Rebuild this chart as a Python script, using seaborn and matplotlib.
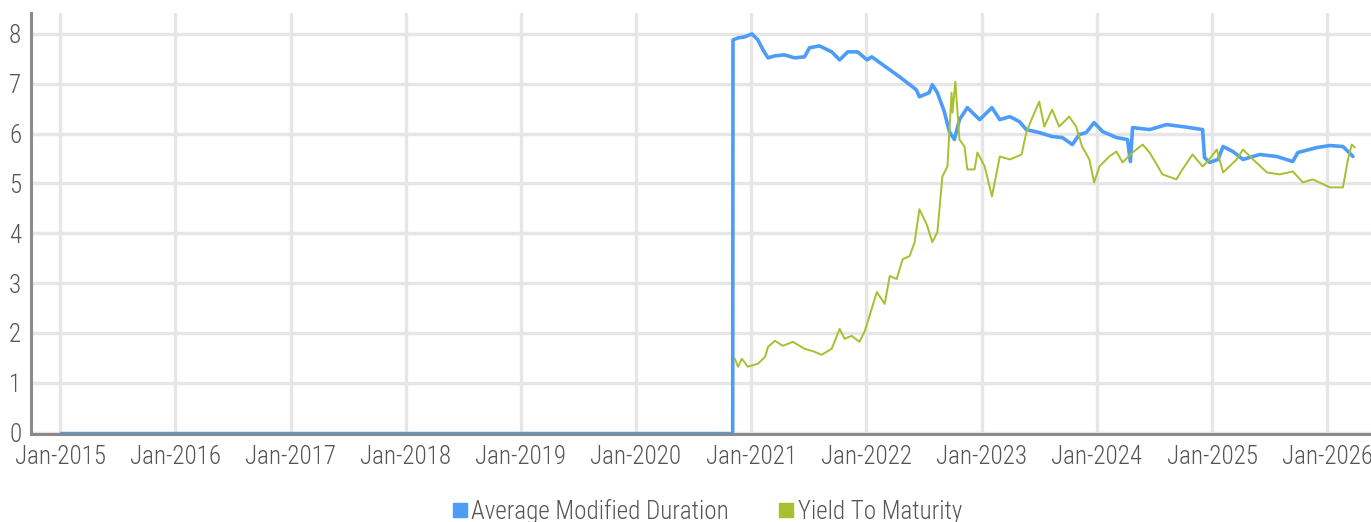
import numpy as np
import pandas as pd
import matplotlib
matplotlib.use("Agg")
import matplotlib.pyplot as plt
import matplotlib.dates as mdates
from matplotlib import font_manager
from matplotlib.lines import Line2D
import seaborn as sns

# Average Modified Duration (flat at zero until the fund data starts)
dur_dates = ["2015-01-01", "2020-11-03", "2020-11-04", "2020-11-20", "2020-12-10",
             "2021-01-03", "2021-01-22", "2021-02-07", "2021-02-23", "2021-03-17",
             "2021-04-16", "2021-05-18", "2021-06-19", "2021-07-04", "2021-08-05",
             "2021-09-13", "2021-10-08", "2021-11-03", "2021-12-04", "2022-01-03",
             "2022-01-18", "2022-02-22", "2022-04-16", "2022-06-08", "2022-06-18",
             "2022-07-19", "2022-07-29", "2022-08-14", "2022-09-05", "2022-09-21",
             "2022-10-07", "2022-10-23", "2022-11-17", "2022-12-26", "2023-02-03",
             "2023-02-28", "2023-04-01", "2023-05-01", "2023-05-23", "2023-07-03",
             "2023-08-13", "2023-09-14", "2023-10-16", "2023-11-07", "2023-11-29",
             "2023-12-24", "2024-01-20", "2024-03-04", "2024-04-08", "2024-04-17",
             "2024-04-24", "2024-06-17", "2024-08-10", "2024-09-29", "2024-12-02",
             "2024-12-08", "2024-12-24", "2025-01-20", "2025-02-05", "2025-03-08",
             "2025-04-09", "2025-06-01", "2025-07-25", "2025-09-14", "2025-09-30",
             "2025-11-30", "2026-01-10", "2026-02-20", "2026-03-24"]
dur_values = [0.02, 0.02, 7.88, 7.92, 7.94,
              8.00, 7.88, 7.68, 7.52, 7.56,
              7.58, 7.52, 7.54, 7.72, 7.76,
              7.64, 7.48, 7.64, 7.64, 7.48,
              7.54, 7.38, 7.14, 6.88, 6.74,
              6.82, 6.98, 6.82, 6.44, 6.04,
              5.88, 6.28, 6.52, 6.28, 6.52,
              6.28, 6.34, 6.24, 6.08, 6.02,
              5.94, 5.92, 5.78, 5.98, 6.02,
              6.22, 6.04, 5.92, 5.88, 5.44,
              6.12, 6.08, 6.18, 6.14, 6.08,
              5.52, 5.42, 5.48, 5.74, 5.64,
              5.48, 5.58, 5.54, 5.44, 5.62,
              5.72, 5.76, 5.74, 5.54]

# Yield To Maturity
ytm_dates = ["2020-11-10", "2020-11-20", "2020-12-02", "2020-12-21", "2021-01-22",
             "2021-02-14", "2021-02-23", "2021-03-17", "2021-04-11", "2021-05-13",
             "2021-06-19", "2021-07-21", "2021-08-12", "2021-09-13", "2021-10-08",
             "2021-10-24", "2021-11-15", "2021-12-10", "2021-12-27", "2022-01-05",
             "2022-02-03", "2022-02-28", "2022-03-16", "2022-04-07", "2022-04-26",
             "2022-05-18", "2022-06-03", "2022-06-18", "2022-07-11", "2022-07-29",
             "2022-08-14", "2022-08-30", "2022-09-15", "2022-09-28", "2022-10-01",
             "2022-10-10", "2022-10-23", "2022-11-08", "2022-11-17", "2022-12-10",
             "2022-12-19", "2023-01-11", "2023-02-03", "2023-02-28", "2023-04-01",
             "2023-05-08", "2023-05-23", "2023-06-11", "2023-07-03", "2023-07-19",
             "2023-08-13", "2023-09-04", "2023-10-06", "2023-10-28", "2023-11-16",
             "2023-12-09", "2023-12-24", "2024-01-10", "2024-02-10", "2024-03-04",
             "2024-03-23", "2024-04-24", "2024-05-26", "2024-06-17", "2024-07-28",
             "2024-09-10", "2024-09-29", "2024-10-31", "2024-12-02", "2024-12-18",
             "2025-01-16", "2025-02-05", "2025-03-20", "2025-04-09", "2025-05-11",
             "2025-06-24", "2025-08-04", "2025-09-14", "2025-10-16", "2025-11-16",
             "2026-01-10", "2026-02-20", "2026-03-08", "2026-03-20", "2026-03-30"]
ytm_values = [1.48, 1.32, 1.48, 1.32, 1.38,
              1.52, 1.72, 1.84, 1.74, 1.82,
              1.68, 1.62, 1.56, 1.68, 2.08,
              1.88, 1.94, 1.82, 2.04, 2.22,
              2.82, 2.58, 3.14, 3.08, 3.48,
              3.54, 3.82, 4.48, 4.18, 3.82,
              4.02, 5.14, 5.34, 6.82, 6.42,
              7.04, 5.88, 5.74, 5.28, 5.28,
              5.62, 5.34, 4.74, 5.54, 5.48,
              5.58, 6.02, 6.32, 6.64, 6.14,
              6.48, 6.14, 6.34, 6.14, 5.74,
              5.48, 5.02, 5.34, 5.54, 5.64,
              5.42, 5.62, 5.78, 5.62, 5.18,
              5.08, 5.28, 5.58, 5.34, 5.44,
              5.68, 5.22, 5.48, 5.68, 5.48,
              5.22, 5.18, 5.24, 5.02, 5.08,
              4.92, 4.92, 5.48, 5.78, 5.72]

series_names = ["Average Modified Duration", "Yield To Maturity"]
colors = ["#4d9cf8", "#a8bf2f"]

dur = pd.DataFrame({"date": pd.to_datetime(dur_dates), "value": dur_values})
ytm = pd.DataFrame({"date": pd.to_datetime(ytm_dates), "value": ytm_values})

sns.set_style("white")

# pick a narrow face if one is installed
names = {f.name for f in font_manager.fontManager.ttflist}
narrow = [n for n in ["Roboto Condensed", "Liberation Sans Narrow", "DejaVu Sans Condensed",
                      "Open Sans Condensed", "Roboto", "DejaVu Sans"] if n in names]
plt.rcParams["font.family"] = narrow + ["DejaVu Sans"]
plt.rcParams["font.stretch"] = "condensed"
plt.rcParams["font.weight"] = "light"

fig = plt.figure(figsize=(13.71, 5.22), dpi=100)
ax = fig.add_axes([31 / 1371, 1 - 434 / 522, 1 - 31 / 1371, 421 / 522])

sns.lineplot(data=dur.iloc[:2], x="date", y="value", ax=ax, color=colors[0], linewidth=1.0)
sns.lineplot(data=dur.iloc[1:], x="date", y="value", ax=ax, color=colors[0], linewidth=2.6)
sns.lineplot(data=ytm, x="date", y="value", ax=ax, color=colors[1], linewidth=1.4)

ax.set_xlim(pd.Timestamp("2014-10-01"), pd.Timestamp("2026-05-20"))
ax.set_ylim(-0.03, 8.42)
ax.set_yticks(range(0, 9))
ax.xaxis.set_major_locator(mdates.YearLocator())
ax.xaxis.set_major_formatter(mdates.DateFormatter("%b-%Y"))

ax.grid(True, color="#e6e6e6", linewidth=2.4)
ax.set_axisbelow(True)
ax.set_xlabel("")
ax.set_ylabel("")
for side in ["top", "right"]:
    ax.spines[side].set_visible(False)
for side in ["left", "bottom"]:
    ax.spines[side].set_color("#8a8a8a")
    ax.spines[side].set_linewidth(2.2)
ax.tick_params(axis="both", length=0, labelsize=18, labelcolor="#555555")
ax.tick_params(axis="y", pad=7)
ax.tick_params(axis="x", pad=8)

handles = [Line2D([], [], linestyle="none", marker="s", markersize=10,
                  markerfacecolor=c, markeredgecolor=c) for c in colors]
fig.legend(handles, series_names, loc="center", ncol=2, frameon=False,
           bbox_to_anchor=(706 / 1371, 1 - 511 / 522), fontsize=18,
           labelcolor="#555555", handletextpad=0.05, columnspacing=1.9,
           handlelength=0.8)

fig.savefig("out.png", dpi=100)
